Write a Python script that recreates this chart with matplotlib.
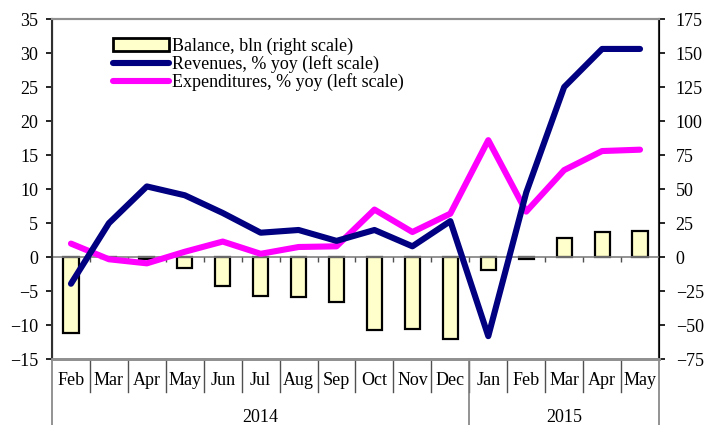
import matplotlib.pyplot as plt
from matplotlib.patches import Patch
from matplotlib.lines import Line2D

# =====================
# DATA
# =====================
months = ["Feb", "Mar", "Apr", "May", "Jun", "Jul", "Aug", "Sep",
          "Oct", "Nov", "Dec", "Jan", "Feb", "Mar", "Apr", "May"]
years = ["2014", "2015"]
year_counts = [11, 5]

balance = [-55.7, -0.5, -1.2, -7.9, -21, -28.5, -29, -33,
           -53.5, -52.5, -60, -9.4, -1, 14.3, 18.7, 19.5]
revenues = [-3.9, 5.0, 10.4, 9.1, 6.5, 3.6, 4.0, 2.4,
            4.0, 1.6, 5.3, -11.6, 9.5, 25.0, 30.6, 30.6]
expenditures = [2.0, -0.3, -0.9, 0.8, 2.3, 0.5, 1.5, 1.6,
                7.0, 3.7, 6.4, 17.2, 6.7, 12.8, 15.6, 15.8]

# =====================
# STYLE
# =====================
plt.rcParams["font.family"] = ["Liberation Serif", "DejaVu Serif"]
FS = 13
LW = 4.4
BAR_COLOR = "#FFFFCC"
REV_COLOR = "#000080"
EXP_COLOR = "#FF00FF"

fig = plt.figure(figsize=(7.12, 4.25), dpi=100)
ax = fig.add_axes([52 / 712, 1 - 359.3 / 425, 607 / 712, 340.3 / 425])
ax2 = ax.twinx()

x = list(range(len(months)))

# bars on the right scale, behind the lines
ax2.bar(x, balance, width=0.4, color=BAR_COLOR, edgecolor="black", linewidth=1.6, zorder=2)
ax2.set_ylim(-75, 175)
ax2.set_yticks(range(-75, 176, 25))

ax.plot(x, revenues, color=REV_COLOR, linewidth=LW, solid_capstyle="round",
        solid_joinstyle="round", zorder=4)
ax.plot(x, expenditures, color=EXP_COLOR, linewidth=LW, solid_capstyle="round",
        solid_joinstyle="round", zorder=3)
ax.set_ylim(-15, 35)
ax.set_yticks(range(-15, 36, 5))
ax.set_xlim(-0.5, len(months) - 0.5)

ax.set_zorder(ax2.get_zorder() + 1)
ax.patch.set_visible(False)

# zero line with small category ticks
ax.axhline(0, color="#808080", linewidth=1.2, zorder=1)
ax.vlines([i + 0.5 for i in x[:-1]], -0.7, 0, color="#505050", linewidth=1, zorder=1)

# spines
for a in (ax, ax2):
    a.spines["top"].set_color("#909090")
    a.spines["top"].set_linewidth(1.5)
    a.spines["bottom"].set_color("#909090")
    a.spines["bottom"].set_linewidth(2)
ax.spines["left"].set_color("#303030")
ax.spines["left"].set_linewidth(1.5)
ax2.spines["right"].set_color("#303030")
ax2.spines["right"].set_linewidth(1.5)

ax.tick_params(axis="y", direction="out", length=4, width=1.2, labelsize=FS, pad=6)
ax2.tick_params(axis="y", direction="out", length=4, width=1.2, labelsize=FS, pad=8)

# month labels
ax.set_xticks(x, months)
ax.tick_params(axis="x", length=0, labelsize=FS, pad=9)

# category separators
trans = ax.get_xaxis_transform()
for b in [i + 0.5 for i in x[:-1]]:
    ax.plot([b, b], [0, -0.097], color="#505050", linewidth=1, transform=trans, clip_on=False)

# year level
start = -0.5
for yr, n in zip(years, year_counts):
    end = start + n
    ax.text((start + end) / 2, -0.17, yr, transform=trans, ha="center", va="center", fontsize=FS)
    start = end
bounds = [-0.5, -0.5 + year_counts[0], len(months) - 0.5]
for b in bounds:
    ax.plot([b, b], [0, -0.2], color="#808080", linewidth=1.2, transform=trans, clip_on=False)

# legend
handles = [
    Patch(facecolor=BAR_COLOR, edgecolor="black", linewidth=2),
    Line2D([0], [0], color=REV_COLOR, linewidth=LW, solid_capstyle="round"),
    Line2D([0], [0], color=EXP_COLOR, linewidth=LW, solid_capstyle="round"),
]
labels = ["Balance, bln (right scale)", "Revenues, % yoy (left scale)",
          "Expenditures, % yoy (left scale)"]
ax.legend(handles, labels, loc="upper left", bbox_to_anchor=(0.1, 0.945), frameon=False,
          fontsize=13, handlelength=3.1, handletextpad=0.2, labelspacing=0.0,
          borderpad=0, borderaxespad=0)

fig.savefig("out.png", dpi=100)
